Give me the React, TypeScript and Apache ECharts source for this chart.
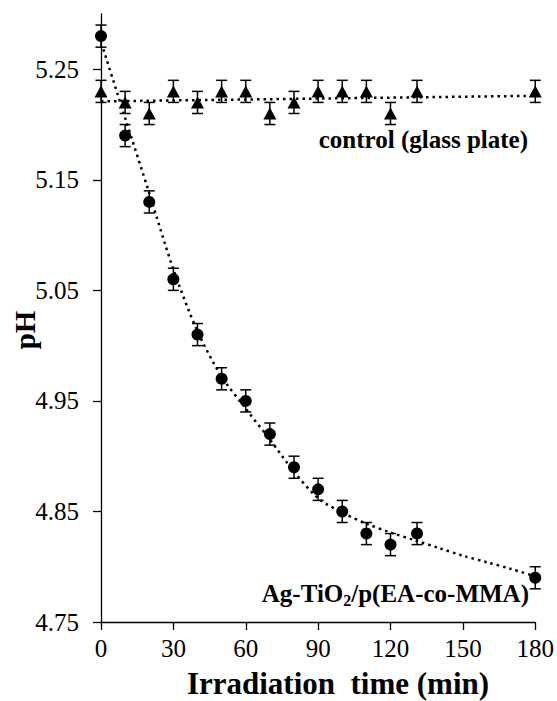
import React, { useEffect, useRef } from "react";
import * as echarts from "echarts";

// Ag-TiO2/p(EA-co-MMA) measurements
const xSample = [0, 10, 20, 30, 40, 50, 60, 70, 80, 90, 100, 110, 120, 131, 180];
const ySample = [5.28, 5.19, 5.13, 5.06, 5.01, 4.97, 4.95, 4.92, 4.89, 4.87, 4.85, 4.83, 4.82, 4.83, 4.79];
const errSample = [0.01, 0.01, 0.01, 0.01, 0.01, 0.01, 0.01, 0.01, 0.01, 0.01, 0.01, 0.01, 0.01, 0.01, 0.01];

// control (glass plate) measurements
const xControl = [0, 10, 20, 30, 40, 50, 60, 70, 80, 90, 100, 110, 120, 131, 180];
const yControl = [5.23, 5.22, 5.21, 5.23, 5.22, 5.23, 5.23, 5.21, 5.22, 5.23, 5.23, 5.23, 5.21, 5.23, 5.23];
const errControl = [0.01, 0.01, 0.01, 0.01, 0.01, 0.01, 0.01, 0.01, 0.01, 0.01, 0.01, 0.01, 0.01, 0.01, 0.01];

// dotted trend lines
const xTrendSample = [1, 10, 20, 30, 40, 50, 60, 70, 80, 90, 100, 110, 120, 130, 140, 150, 160, 170, 179];
const yTrendSample = [5.268, 5.206, 5.138, 5.069, 5.013, 4.972, 4.943, 4.915, 4.886, 4.862, 4.849, 4.839, 4.831, 4.824, 4.817, 4.81, 4.804, 4.798, 4.792];
const xTrendControl = [0, 180];
const yTrendControl = [5.221, 5.226];

const yTicks = [4.75, 4.85, 4.95, 5.05, 5.15, 5.25];

const FONT = "Liberation Serif";
const INK = "#000";

function errorBarSeries(xs: number[], ys: number[], es: number[]) {
  return {
    type: "custom",
    silent: true,
    z: 3,
    encode: { x: 0, y: [1, 2] },
    data: xs.map((x, i) => [x, ys[i] - es[i], ys[i] + es[i]]),
    renderItem: (params: any, api: any) => {
      const x = api.value(0);
      const lo = api.coord([x, api.value(1)]);
      const hi = api.coord([x, api.value(2)]);
      const w = 5.5;
      const style = { stroke: INK, lineWidth: 1.5 };
      return {
        type: "group",
        children: [
          { type: "line", shape: { x1: lo[0], y1: lo[1], x2: hi[0], y2: hi[1] }, style },
          { type: "line", shape: { x1: lo[0] - w, y1: lo[1], x2: lo[0] + w, y2: lo[1] }, style },
          { type: "line", shape: { x1: hi[0] - w, y1: hi[1], x2: hi[0] + w, y2: hi[1] }, style },
        ],
      };
    },
  };
}

export default function App() {
  const ref = useRef<HTMLDivElement>(null);
  useEffect(() => {
    if (!ref.current) return;
    const chart = echarts.init(ref.current, undefined, { renderer: "svg" });
    const dotted = { color: INK, width: 2.5, type: [2.5, 4] as number[], cap: "butt" as const, opacity: 1 };
    chart.setOption({
      animation: false,
      backgroundColor: "#fff",
      grid: { left: 101, right: 20, top: 14, bottom: 79, containLabel: false },
      xAxis: {
        type: "value",
        min: 0,
        max: 180,
        interval: 30,
        axisLine: { lineStyle: { color: INK, width: 1.3 } },
        axisTick: { inside: false, length: 8, lineStyle: { color: INK, width: 1.3 } },
        splitLine: { show: false },
        axisLabel: { color: INK, fontSize: 25, fontFamily: FONT, margin: 14 },
      },
      yAxis: {
        type: "value",
        min: 4.75,
        max: 5.3,
        axisLine: { show: true, lineStyle: { color: INK, width: 1.3 } },
        axisTick: { show: true, inside: false, length: 8, customValues: yTicks, lineStyle: { color: INK, width: 1.3 } },
        splitLine: { show: false },
        axisLabel: {
          color: INK,
          fontSize: 25,
          fontFamily: FONT,
          margin: 22,
          customValues: yTicks,
          formatter: (v: number) => v.toFixed(2),
        },
      },
      series: [
        {
          type: "line",
          data: xTrendControl.map((x, i) => [x, yTrendControl[i]]),
          showSymbol: false,
          symbol: "none",
          lineStyle: dotted,
          z: 2,
          silent: true,
        },
        {
          type: "line",
          data: xTrendSample.map((x, i) => [x, yTrendSample[i]]),
          showSymbol: false,
          symbol: "none",
          smooth: 0.3,
          lineStyle: dotted,
          z: 2,
          silent: true,
        },
        errorBarSeries(xControl, yControl, errControl),
        errorBarSeries(xSample, ySample, errSample),
        {
          type: "scatter",
          data: xControl.map((x, i) => [x, yControl[i]]),
          symbol: "triangle",
          symbolSize: [13, 12],
          itemStyle: { color: INK, opacity: 1 },
          z: 4,
          clip: false,
        },
        {
          type: "scatter",
          data: xSample.map((x, i) => [x, ySample[i]]),
          symbol: "circle",
          symbolSize: 12,
          itemStyle: { color: INK, opacity: 1 },
          z: 4,
          clip: false,
        },
      ],
      graphic: [
        {
          type: "text",
          x: 25,
          y: 330,
          rotation: Math.PI / 2,
          style: {
            text: "pH",
            fontFamily: FONT,
            fontWeight: "bold",
            fontSize: 29,
            fill: INK,
            align: "center",
            verticalAlign: "middle",
          },
        },
        {
          type: "text",
          x: 338,
          y: 683,
          style: {
            text: "Irradiation\u00a0 time (min)",
            fontFamily: FONT,
            fontWeight: "bold",
            fontSize: 31,
            fill: INK,
            align: "center",
            verticalAlign: "middle",
          },
        },
        {
          type: "text",
          x: 528,
          y: 139,
          style: {
            text: "control (glass plate)",
            fontFamily: FONT,
            fontWeight: "bold",
            fontSize: 25,
            fill: INK,
            align: "right",
            verticalAlign: "middle",
          },
        },
        {
          type: "text",
          x: 529,
          y: 593,
          style: {
            text: "{m|Ag-TiO}{s|2}{m|/p(EA-co-MMA)}",
            fill: INK,
            align: "right",
            verticalAlign: "middle",
            rich: {
              m: { fontFamily: FONT, fontWeight: "bold", fontSize: 25, fill: INK, lineHeight: 30, verticalAlign: "middle" },
              s: { fontFamily: FONT, fontWeight: "bold", fontSize: 16, fill: INK, lineHeight: 16, verticalAlign: "bottom" },
            },
          },
        },
      ],
    });
    return () => chart.dispose();
  }, []);
  return (
    <div
      ref={ref}
      style={{ position: "fixed", left: 0, top: 0, width: 557, height: 701, background: "#fff" }}
    />
  );
}
